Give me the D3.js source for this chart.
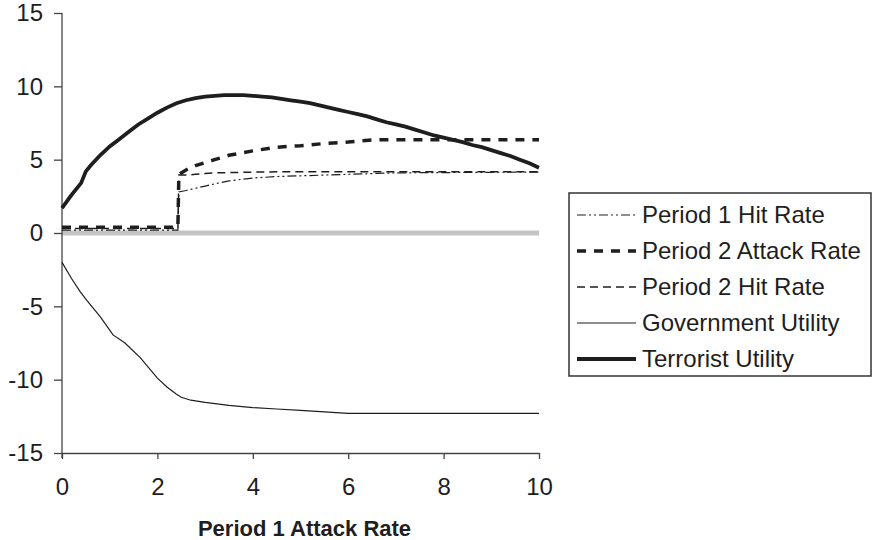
<!DOCTYPE html>
<html>
<head>
<meta charset="utf-8">
<script src="https://cdn.jsdelivr.net/npm/d3@7/dist/d3.min.js"></script>
<style>
  body { margin: 0; background: #fff; }
  svg { display: block; font-family: Arial, 'Liberation Sans', sans-serif; }
  .axis path, .axis line { stroke: #444; stroke-width: 1.3; }
  .axis text { font-size: 24px; fill: #1e1e1e; }
</style>
</head>
<body>
<div id="chart"></div>
<script>
// values (x = period 1 attack rate)
const terroristX = [0, 0.2, 0.4, 0.5, 0.6, 0.8, 1.0, 1.2, 1.4, 1.6, 1.8, 2.0, 2.2, 2.4, 2.6, 2.8, 3.0, 3.2, 3.4, 3.6, 3.8, 4.0, 4.2, 4.4, 4.6, 4.8, 5.0, 5.2, 5.4, 5.6, 5.8, 6.0, 6.2, 6.4, 6.6, 6.8, 7.0, 7.2, 7.4, 7.6, 7.8, 8.0, 8.2, 8.4, 8.6, 8.8, 9.0, 9.2, 9.4, 9.6, 9.8, 10];
const terroristUtility = [1.7, 2.6, 3.4, 4.2, 4.6, 5.3, 5.9, 6.4, 6.9, 7.4, 7.8, 8.2, 8.55, 8.85, 9.05, 9.2, 9.3, 9.35, 9.4, 9.4, 9.4, 9.35, 9.3, 9.25, 9.15, 9.05, 8.95, 8.85, 8.7, 8.55, 8.4, 8.25, 8.1, 7.95, 7.75, 7.55, 7.4, 7.25, 7.05, 6.85, 6.65, 6.5, 6.35, 6.2, 6.0, 5.85, 5.65, 5.45, 5.25, 5.0, 4.75, 4.45];

const govX = [0, 0.2, 0.38, 0.52, 0.8, 1.07, 1.32, 1.64, 2.0, 2.2, 2.4, 2.5, 2.7, 3.0, 3.5, 4.0, 4.5, 5.0, 5.5, 6.0, 7.0, 8.0, 9.0, 10];
const govUtility = [-2.0, -3.1, -4.0, -4.6, -5.7, -6.95, -7.5, -8.5, -9.9, -10.5, -11.0, -11.2, -11.4, -11.55, -11.75, -11.9, -12.0, -12.1, -12.2, -12.3, -12.3, -12.3, -12.3, -12.3];

const rateX = [0, 2.43, 2.45, 2.6, 2.8, 3.0, 3.2, 3.5, 4.0, 4.5, 5.0, 5.5, 6.0, 6.5, 7.0, 8.0, 9.0, 10];
const p2AttackRate = [0.4, 0.4, 4.0, 4.3, 4.6, 4.8, 5.0, 5.3, 5.6, 5.85, 5.95, 6.1, 6.2, 6.35, 6.35, 6.35, 6.35, 6.35];
const p2HitRate = [0.3, 0.3, 3.95, 3.95, 4.0, 4.05, 4.1, 4.12, 4.15, 4.17, 4.18, 4.18, 4.18, 4.18, 4.18, 4.18, 4.18, 4.18];
const p1HitRate = [0.2, 0.2, 2.8, 2.9, 3.05, 3.2, 3.35, 3.55, 3.75, 3.85, 3.9, 3.95, 4.0, 4.05, 4.1, 4.12, 4.14, 4.15];

const zeroX = [0, 10];
const zeroY = [0, 0];

const xTicks = [0, 2, 4, 6, 8, 10];
const yTicks = [-15, -10, -5, 0, 5, 10, 15];
const xTitle = 'Period 1 Attack Rate';

const series = [
  {name: 'Period 1 Hit Rate', xs: rateX, ys: p1HitRate, width: 1.2, dash: '9,3,2,3,2,3'},
  {name: 'Period 2 Attack Rate', xs: rateX, ys: p2AttackRate, width: 3.5, dash: '9,8'},
  {name: 'Period 2 Hit Rate', xs: rateX, ys: p2HitRate, width: 1.5, dash: '8,5'},
  {name: 'Government Utility', xs: govX, ys: govUtility, width: 1.2, dash: null},
  {name: 'Terrorist Utility', xs: terroristX, ys: terroristUtility, width: 3.8, dash: null}
];

const width = 872;
const height = 540;

const svg = d3.select('#chart')
  .append('svg')
  .attr('width', width)
  .attr('height', height);

const x = d3.scaleLinear().domain([0, 10]).range([62, 539]);
const y = d3.scaleLinear().domain([-15, 15]).range([453, 13]);

const line = d3.line()
  .x(d => x(d[0]))
  .y(d => y(d[1]));

// gray zero band
svg.append('path')
  .datum(d3.zip(zeroX, zeroY))
  .attr('d', line)
  .attr('fill', 'none')
  .attr('stroke', '#c4c4c4')
  .attr('stroke-width', 5);

// plain hyphen for negatives, like the original
const fmt = d => String(d);

svg.append('g')
  .attr('class', 'axis')
  .attr('transform', `translate(${x(0)}, 0)`)
  .call(d3.axisLeft(y).tickValues(yTicks).tickFormat(fmt).tickSize(8).tickSizeOuter(0).tickPadding(11))
  .call(g => g.select('.domain').attr('d', `M0,${y(15)}V${y(-15) + 5}`));

svg.append('g')
  .attr('class', 'axis')
  .attr('transform', `translate(0, ${y(-15)})`)
  .call(d3.axisBottom(x).tickValues(xTicks).tickFormat(fmt).tickSize(6).tickSizeOuter(0).tickPadding(19));

series.forEach(s => {
  svg.append('path')
    .datum(d3.zip(s.xs, s.ys))
    .attr('d', line)
    .attr('fill', 'none')
    .attr('stroke', '#1e1e1e')
    .attr('stroke-width', s.width)
    .attr('stroke-dasharray', s.dash);
});

// axis name
svg.append('text')
  .attr('x', (x(0) + x(10)) / 2 + 4)
  .attr('y', 528)
  .attr('dy', '.35em')
  .style('text-anchor', 'middle')
  .style('font-size', '22px')
  .style('font-weight', 'bold')
  .attr('fill', '#1e1e1e')
  .text(xTitle);

// legend
const legend = svg.append('g').attr('transform', 'translate(569, 193)');
legend.append('rect')
  .attr('width', 302)
  .attr('height', 183)
  .attr('fill', '#fff')
  .attr('stroke', '#333')
  .attr('stroke-width', 1.5);

const item = legend.selectAll('.item')
  .data(series)
  .enter().append('g')
  .attr('transform', (d, i) => `translate(0, ${22 + i * 36})`);
item.append('line')
  .attr('x1', 8)
  .attr('x2', 67)
  .attr('stroke', '#1e1e1e')
  .attr('stroke-width', d => d.width)
  .attr('stroke-dasharray', d => d.dash);
item.append('text')
  .attr('x', 73)
  .attr('dy', '.35em')
  .style('font-size', '24px')
  .attr('fill', '#1e1e1e')
  .text(d => d.name);
</script>
</body>
</html>
